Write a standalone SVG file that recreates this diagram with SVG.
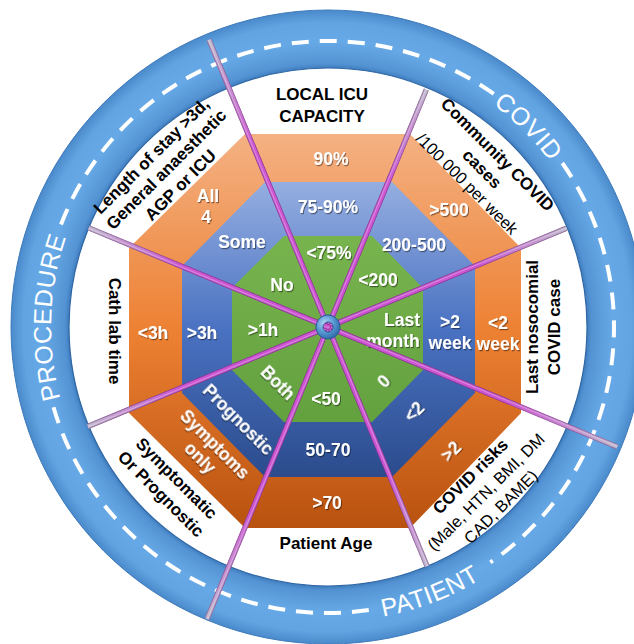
<svg xmlns="http://www.w3.org/2000/svg" width="634" height="644" viewBox="0 0 634 644">
  <defs>
    <radialGradient id="ringGrad" gradientUnits="userSpaceOnUse" cx="328" cy="327" r="317">
      <stop offset="0.817" stop-color="#3F7DBF"/>
      <stop offset="0.832" stop-color="#5493D3"/>
      <stop offset="0.9" stop-color="#66A9E6"/>
      <stop offset="0.96" stop-color="#62A4E2"/>
      <stop offset="1" stop-color="#4A8ACB"/>
    </radialGradient>
    <linearGradient id="orangeGrad" gradientUnits="userSpaceOnUse" x1="0" y1="134" x2="0" y2="528">
      <stop offset="0" stop-color="#F4B183"/>
      <stop offset="0.5" stop-color="#ED8133"/>
      <stop offset="1" stop-color="#B9520F"/>
    </linearGradient>
    <linearGradient id="blueGrad" gradientUnits="userSpaceOnUse" x1="0" y1="182" x2="0" y2="477">
      <stop offset="0" stop-color="#95AEE0"/>
      <stop offset="0.5" stop-color="#4A72C2"/>
      <stop offset="1" stop-color="#2B4B8C"/>
    </linearGradient>
    <linearGradient id="greenGrad" gradientUnits="userSpaceOnUse" x1="0" y1="236" x2="0" y2="422">
      <stop offset="0" stop-color="#78B44E"/>
      <stop offset="1" stop-color="#63A13F"/>
    </linearGradient>
    <linearGradient id="spokeLen" x1="0" y1="0" x2="1" y2="0">
      <stop offset="0" stop-color="#CC3DD2"/>
      <stop offset="0.62" stop-color="#CC42D2"/>
      <stop offset="1" stop-color="#BDB7CD"/>
    </linearGradient>
    <linearGradient id="spokeTube" x1="0" y1="0" x2="0" y2="1">
      <stop offset="0" stop-color="#4A0E55" stop-opacity="0.55"/>
      <stop offset="0.38" stop-color="#FFFFFF" stop-opacity="0.35"/>
      <stop offset="0.6" stop-color="#FFFFFF" stop-opacity="0.05"/>
      <stop offset="1" stop-color="#4A0E55" stop-opacity="0.6"/>
    </linearGradient>
    <radialGradient id="hubGrad" cx="0.38" cy="0.35" r="0.7">
      <stop offset="0" stop-color="#B8DDF8"/>
      <stop offset="0.5" stop-color="#5B9BD5"/>
      <stop offset="1" stop-color="#2C67A5"/>
    </radialGradient>
    <filter id="txtShadow" x="-20%" y="-40%" width="140%" height="180%">
      <feDropShadow dx="1" dy="1.2" stdDeviation="0.7" flood-color="#000000" flood-opacity="0.45"/>
    </filter>
    <!-- arcs the ring titles run along -->
    <path id="procPath" d="M109.7 497.5 A277 277 0 0 1 122.2 141.7"/>
    <path id="covidPath" d="M352.1 51.1 A277 277 0 0 1 603.9 302.8"/>
    <path id="patientPath" d="M232.0 605.9 A295 295 0 0 0 586.0 470.0"/>
    <style>
      .oct { font-family: "Liberation Sans", Arial, sans-serif; font-weight: bold; font-size: 17.5px; fill: #FFFFFF; text-anchor: middle; filter: url(#txtShadow); }
      .lbl { font-family: "Liberation Sans", Arial, sans-serif; font-weight: bold; font-size: 17px; fill: #000000; text-anchor: middle; }
      .lblr { font-family: "Liberation Sans", Arial, sans-serif; font-weight: normal; font-size: 16.5px; fill: #000000; text-anchor: middle; }
      .ringtxt { font-family: "Liberation Sans", Arial, sans-serif; font-size: 25px; fill: #FFFFFF; letter-spacing: 0.5px; text-anchor: middle; }
      .dash { fill: none; stroke: #FFFFFF; stroke-width: 4; stroke-dasharray: 17 11; }
      .tube { fill: url(#spokeTube); }
      .shaft { fill: url(#spokeLen); }
    </style>
  </defs>

  <!-- outer blue ring -->
  <g id="ring">
    <path d="M328 10 A317 317 0 1 1 327.9 10 Z M328 68 A259 259 0 1 0 328.1 68 Z" fill="url(#ringGrad)" fill-rule="evenodd"/>
    <circle cx="328" cy="327" r="317" fill="none" stroke="#3F7BBB" stroke-width="1"/>
    <circle cx="328" cy="327" r="259" fill="none" stroke="#2F66A3" stroke-width="1.2"/>
    <path class="dash" d="M61.0 224.5 A286 286 0 0 1 496.1 95.6"/>
    <path class="dash" d="M562.3 163.0 A286 286 0 0 1 490.4 562.4"/>
    <path class="dash" d="M368.8 610.1 A286 286 0 0 1 53.5 407.3"/>
    <text class="ringtxt"><textPath href="#procPath" startOffset="50%">PROCEDURE</textPath></text>
    <text class="ringtxt"><textPath href="#covidPath" startOffset="50%">COVID</textPath></text>
    <text class="ringtxt"><textPath href="#patientPath" startOffset="50%">PATIENT</textPath></text>
  </g>

  <!-- concentric octagon bands -->
  <g id="band-outer">
    <polygon points="245,134 410,134 521,248 521,413 410,528 245,528 129,413 129,248" fill="url(#orangeGrad)"/>
  </g>
  <g id="band-middle">
    <polygon points="265,182 392,182 475,266 475,393 392,477 265,477 182,393 182,266" fill="url(#blueGrad)"/>
  </g>
  <g id="band-inner">
    <polygon points="284,236 372,236 423,288 423,370 372,422 284,422 232,370 232,288" fill="url(#greenGrad)"/>
  </g>

  <!-- sector: local ICU capacity -->
  <g id="sector-icu">
    <text class="lbl" x="322" y="100">LOCAL ICU</text>
    <text class="lbl" x="322" y="122">CAPACITY</text>
    <text class="oct" x="331" y="165">90%</text>
    <text class="oct" x="328" y="213">75-90%</text>
    <text class="oct" x="329" y="259">&lt;75%</text>
  </g>

  <!-- sector: community cases -->
  <g id="sector-community">
    <g transform="translate(328 327) rotate(45)">
      <text class="lbl" x="-2" y="-236">Community COVID</text>
      <text class="lbl" x="-3" y="-215">cases</text>
      <text class="lblr" x="-3" y="-194">/100 000 per week</text>
    </g>
    <text class="oct" x="449" y="216">&gt;500</text>
    <text class="oct" x="414" y="251">200-500</text>
    <text class="oct" x="378" y="286">&lt;200</text>
  </g>

  <!-- sector: last nosocomial case -->
  <g id="sector-nosocomial">
    <g transform="translate(328 327) rotate(-90)">
      <text class="lbl" x="0" y="210">Last nosocomial</text>
      <text class="lbl" x="0" y="232">COVID case</text>
    </g>
    <text class="oct" x="498" y="329">&lt;2</text>
    <text class="oct" x="498" y="350">week</text>
    <text class="oct" x="450" y="328">&gt;2</text>
    <text class="oct" x="450" y="349">week</text>
    <text class="oct" x="402" y="326">Last</text>
    <text class="oct" x="393" y="347">month</text>
  </g>

  <!-- sector: COVID risks -->
  <g id="sector-risks">
    <g transform="translate(328 327) rotate(-45)">
      <text class="lbl" x="-5" y="212">COVID risks</text>
      <text class="lblr" x="-5" y="234">(Male, HTN, BMI, DM</text>
      <text class="lblr" x="-5" y="255">CAD, BAME)</text>
      <text class="oct" x="1" y="84">0</text>
      <text class="oct" x="1" y="127">&lt;2</text>
      <text class="oct" x="-1" y="181">&gt;2</text>
    </g>
  </g>

  <!-- sector: patient age -->
  <g id="sector-age">
    <text class="lbl" x="326" y="549">Patient Age</text>
    <text class="oct" x="326" y="405">&lt;50</text>
    <text class="oct" x="328" y="456">50-70</text>
    <text class="oct" x="327" y="509">&gt;70</text>
  </g>

  <!-- sector: symptomatic or prognostic -->
  <g id="sector-indication">
    <g transform="translate(328 327) rotate(45)">
      <text class="lbl" x="0" y="220">Symptomatic</text>
      <text class="lbl" x="0" y="242">Or Prognostic</text>
      <text class="oct" x="4" y="81">Both</text>
      <text class="oct" x="2" y="135">Prognostic</text>
      <text class="oct" x="3" y="169">Symptoms</text>
      <text class="oct" x="2" y="189">only</text>
    </g>
  </g>

  <!-- sector: cath lab time -->
  <g id="sector-cathlab">
    <g transform="translate(328 327) rotate(90)">
      <text class="lbl" x="4" y="219">Cath lab time</text>
    </g>
    <text class="oct" x="153" y="339">&lt;3h</text>
    <text class="oct" x="202" y="339">&gt;3h</text>
    <text class="oct" x="263" y="336">&gt;1h</text>
  </g>

  <!-- sector: length of stay / anaesthetic -->
  <g id="sector-stay">
    <g transform="translate(328 327) rotate(-45)">
      <text class="lbl" x="-4" y="-240">Length of stay &gt;3d,</text>
      <text class="lbl" x="-3" y="-220">General anaesthetic</text>
      <text class="lbl" x="-4" y="-199">AGP or ICU</text>
    </g>
    <text class="oct" x="208" y="202">All</text>
    <text class="oct" x="206" y="223">4</text>
    <text class="oct" x="242" y="248">Some</text>
    <text class="oct" x="282" y="291">No</text>
  </g>

  <!-- spokes between sectors -->
  <g id="spokes">
    <g transform="translate(328 327) rotate(247.5)">
      <rect class="shaft" x="0" y="-2.6" width="311" height="5.2"/>
      <rect class="tube" x="0" y="-2.6" width="311" height="5.2"/>
    </g>
    <g transform="translate(328 327) rotate(292.5)">
      <rect class="shaft" x="0" y="-2.6" width="257" height="5.2"/>
      <rect class="tube" x="0" y="-2.6" width="257" height="5.2"/>
    </g>
    <g transform="translate(328 327) rotate(337.5)">
      <rect class="shaft" x="0" y="-2.6" width="258" height="5.2"/>
      <rect class="tube" x="0" y="-2.6" width="258" height="5.2"/>
    </g>
    <g transform="translate(328 327) rotate(22.5)">
      <rect class="shaft" x="0" y="-2.6" width="313" height="5.2"/>
      <rect class="tube" x="0" y="-2.6" width="313" height="5.2"/>
    </g>
    <g transform="translate(328 327) rotate(67.5)">
      <rect class="shaft" x="0" y="-2.6" width="259" height="5.2"/>
      <rect class="tube" x="0" y="-2.6" width="259" height="5.2"/>
    </g>
    <g transform="translate(328 327) rotate(112.5)">
      <rect class="shaft" x="0" y="-2.6" width="316" height="5.2"/>
      <rect class="tube" x="0" y="-2.6" width="316" height="5.2"/>
    </g>
    <g transform="translate(328 327) rotate(157.5)">
      <rect class="shaft" x="0" y="-2.6" width="260" height="5.2"/>
      <rect class="tube" x="0" y="-2.6" width="260" height="5.2"/>
    </g>
    <g transform="translate(328 327) rotate(202.5)">
      <rect class="shaft" x="0" y="-2.6" width="259" height="5.2"/>
      <rect class="tube" x="0" y="-2.6" width="259" height="5.2"/>
    </g>
  </g>

  <!-- central hub -->
  <g id="hub">
    <path d="M328 315 A12 12 0 1 1 327.9 315 Z M328 322 A5 5 0 1 0 328.1 322 Z" fill="url(#hubGrad)" fill-rule="evenodd" stroke="#245A94" stroke-width="1"/>
  </g>
</svg>
